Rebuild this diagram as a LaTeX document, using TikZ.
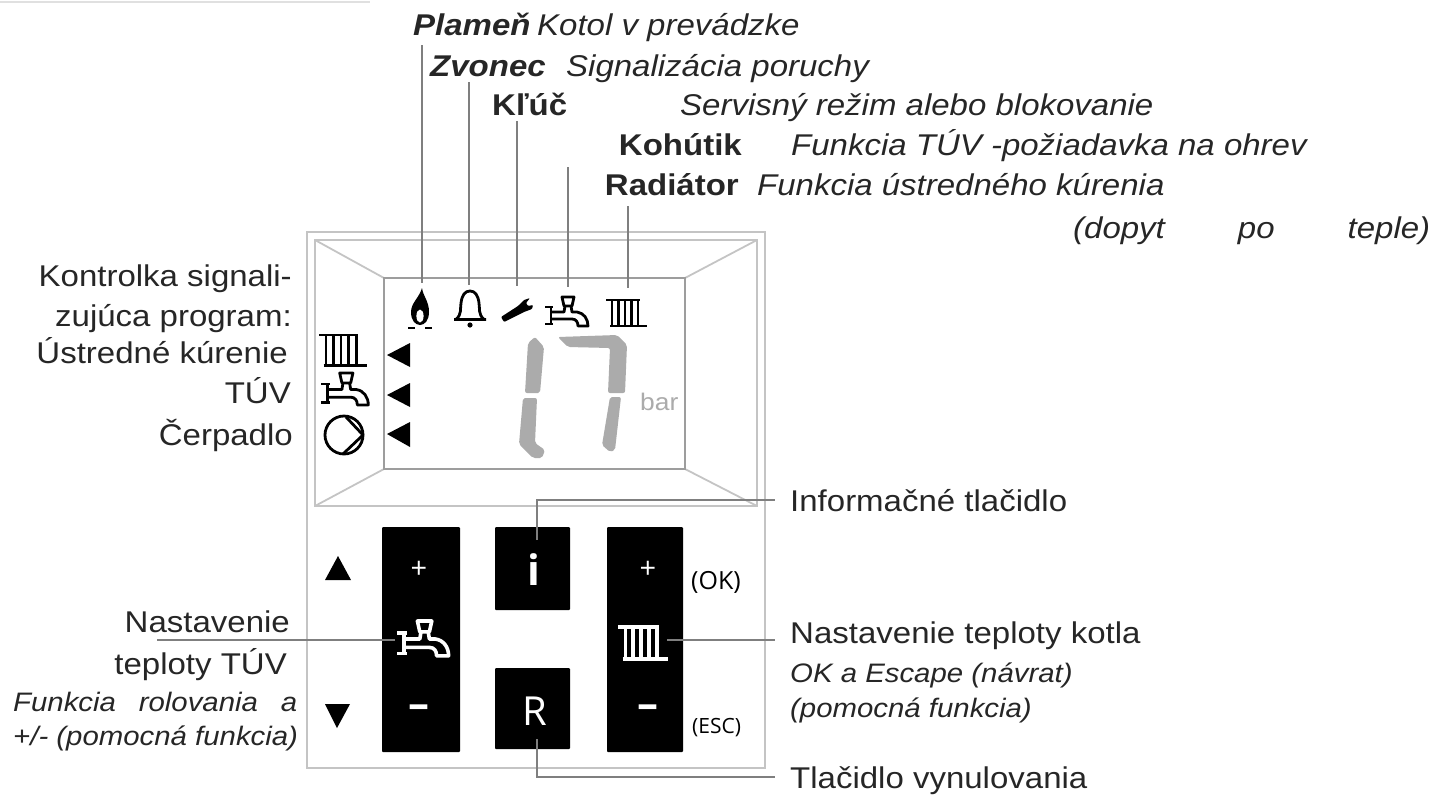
\documentclass[tikz,border=0pt]{standalone}
\usepackage{fontspec}
\setmainfont{Liberation Sans}[FakeStretch=1.1]
\newfontfamily\btnfont{Open Sans}
\definecolor{framegray}{HTML}{C4C4C4}
\definecolor{leadgray}{HTML}{7F7F7F}
\definecolor{seggray}{HTML}{ABABAB}
\tikzset{
    txt/.style={inner sep=0pt, text=black!85, font=\fontsize{30}{33}\selectfont},
    small/.style={txt, font=\fontsize{26.7}{29}\selectfont\itshape},
    head/.style={txt, font=\fontsize{30}{33}\selectfont\bfseries},
    headit/.style={txt, font=\fontsize{30}{33}\selectfont\bfseries\itshape},
    desc/.style={txt, font=\fontsize{30}{33}\selectfont\itshape},
    leader/.style={draw=leadgray, line width=2.2pt},
    frame/.style={draw=framegray, line width=1.8pt},
    btn/.style={fill=black, rounded corners=1pt},
    btntxt/.style={inner sep=0pt, text=white, font=\btnfont\fontsize{40}{44}\selectfont},
    side/.style={inner sep=0pt, text=black, font=\btnfont\fontsize{21}{24}\selectfont},
    seg/.style={fill=seggray, rounded corners=2pt},
    radicon/.pic={
        \draw (0,0) -- (34,0);
        \draw (4,26) -- (41,26);
        \foreach \x in {6,12.5,19,25.5,32} \draw (\x,0) -- (\x,26);
    },
    tapicon/.pic={
        \draw[line join=round] (17,0) -- (29,0) -- (27,9) -- (19,9) -- cycle;
        \draw[line join=round] (0,10) -- (8,10) (0,27) -- (8,27) (6,10) -- (6,27);
        \draw[line join=round] (6,15) -- (19,15) -- (20,9) (26,9) -- (27,15) -- (32,15)
            .. controls (39,16) and (43,22) .. (43,29) -- (33,29) .. controls (33,25) and (31,22) .. (27,22) -- (6,22);
    }
}
\begin{document}
\begin{tikzpicture}[x=1pt, y=-1pt]
    \useasboundingbox (0,0) rectangle (1434,796);
    \draw[black!12, line width=2pt] (0,1.5) -- (370,1.5);

    % Panel and display frame
    \node[frame, inner sep=0pt, minimum width=458pt, minimum height=536pt] (panel) at (536,500) {};
    \draw[frame] (315,240) rectangle (757,506);
    \draw[frame] (315,240) -- (384,278) (757,240) -- (685,278) (315,506) -- (384,469) (757,506) -- (685,469);
    \node[draw=framegray!80!black, fill=white, line width=2.8pt, inner sep=0pt, minimum width=301pt, minimum height=191pt] (display) at (534.5,373.5) {};

    % Display icons
    \fill (422,288) .. controls (423,296) and (429,301) .. (429,312) .. controls (429,320) and (425,325) .. (420,325)
        .. controls (415,325) and (411,320) .. (411,312) .. controls (411,303) and (419,298) .. (422,288) -- cycle;
    \fill[white] (420,316) ellipse (3.6pt and 6.5pt);
    \draw[line width=2.4pt] (408,328) -- (415,328) (425,328) -- (432,328);
    \draw[line width=2.8pt, line join=round] (454,319.5) -- (486,319.5) (456,319.5) .. controls (462,314) and (460,309) .. (461,303)
        .. controls (462,295) and (465,291) .. (470,291) .. controls (475,291) and (478,295) .. (479,303)
        .. controls (480,309) and (478,314) .. (484,319.5);
    \fill (470,325) circle (2.6pt);
    \fill[rounded corners=1pt] (501,317) -- (518,306) -- (524,300) -- (530,298) -- (526,303) -- (528,306) -- (533,305) -- (532,309) -- (524,312) -- (504,322) -- cycle;
    \begin{scope}[line width=2.8pt]
    \pic at (545,297) {tapicon};
    \pic at (606,300) {radicon};
    \pic[scale=1.16] at (319,335) {radicon};
    \pic[scale=1.1] at (321,373) {tapicon};
    \end{scope}
    \draw[line width=2.8pt] (344,435) circle (19pt);
    \draw[line width=2.8pt, line join=round] (346,417) -- (363,435) -- (343,454);
    \fill (387,355) -- (410,343) -- (410,367) -- cycle;
    \fill (387,395) -- (410,383) -- (410,407) -- cycle;
    \fill (387,434) -- (410,422) -- (410,447) -- cycle;

    % Pressure digits
    \fill[seg] (535,337) -- (544,347) -- (540,393) -- (525,393) -- (528,343) -- cycle;
    \fill[seg] (523,398) -- (537,398) -- (535,443) -- (545,450) -- (542,458) -- (533,458) -- (519,444) -- cycle;
    \fill[seg] (558,337) -- (617,335) -- (627,345) -- (625,393) -- (608,393) -- (610,348) -- (568,347) -- cycle;
    \fill[seg] (610,397) -- (621,397) -- (615,450) -- (610,452) -- (602,445) -- cycle;
    \node[inner sep=0pt, anchor=base west, text=seggray, font=\fontsize{24}{26}\selectfont] (barunit) at (640,410) {bar};

    % Buttons
    \fill[btn] (382,527) rectangle (460,752);
    \fill[btn] (495,527) rectangle (570,610);
    \fill[btn] (495,668) rectangle (570,749);
    \fill[btn] (607,527) rectangle (683,752);
    \node[btntxt, font=\btnfont\fontsize{29}{31}\selectfont] (plusl) at (419,570) {+};
    \node[btntxt, font=\btnfont\fontsize{29}{31}\selectfont] (plusr) at (648,570) {+};
    \node[btntxt, font=\btnfont\bfseries\fontsize{42}{44}\selectfont] (minusl) at (419,712) {–};
    \node[btntxt, font=\btnfont\bfseries\fontsize{42}{44}\selectfont] (minusr) at (648,712) {–};
    \node[btntxt, anchor=base, font=\btnfont\bfseries\fontsize{42}{44}\selectfont] (ilabel) at (534,585) {i};
    \node[btntxt, anchor=base] (rlabel) at (535,725) {R};
    \begin{scope}[white, line width=3.6pt]
    \pic[scale=1.2] at (397,621) {tapicon};
    \pic[scale=1.22] at (618,627) {radicon};
    \end{scope}
    \fill (338,556) -- (351,580) -- (325,580) -- cycle;
    \fill (337,728) -- (350,704) -- (325,704) -- cycle;
    \node[side, anchor=base west, font=\btnfont\fontsize{25}{27}\selectfont] (oklabel) at (691,589) {(OK)};
    \node[side, anchor=base west] (esclabel) at (692,733) {(ESC)};

    % Top labels
    \node[headit, anchor=base west] (flametxt) at (413,35) {Plameň};
    \node[desc, anchor=base west] (flamedesc) at (537,35) {Kotol v prevádzke};
    \node[headit, anchor=base west] (belltxt) at (430,76) {Zvonec};
    \node[desc, anchor=base west] (belldesc) at (566,76) {Signalizácia poruchy};
    \node[head, anchor=base west] (keytxt) at (492,115) {Kľúč};
    \node[desc, anchor=base west] (keydesc) at (680,115) {Servisný režim alebo blokovanie};
    \node[head, anchor=base east] (taptxt) at (742,155) {Kohútik};
    \node[desc, anchor=base west] (tapdesc) at (791,155) {Funkcia TÚV -požiadavka na ohrev};
    \node[head, anchor=base east] (radtxt) at (739,195) {Radiátor};
    \node[desc, anchor=base west] (raddesc) at (757,195) {Funkcia ústredného kúrenia};
    \node[desc, anchor=base west, text width=357pt] (radmore) at (1073,238) {(dopyt\hfill po\hfill teple)};

    % Left labels
    \node[txt, anchor=base east] (progone) at (292,286) {Kontrolka signali-};
    \node[txt, anchor=base east] (progtwo) at (292,326) {zujúca program:};
    \node[txt, anchor=base east] (progheat) at (288,363) {Ústredné kúrenie};
    \node[txt, anchor=base east] (progtap) at (291,403) {TÚV};
    \node[txt, anchor=base east] (progpump) at (293,445) {Čerpadlo};
    \node[txt, anchor=base east] (dhwone) at (290,632) {Nastavenie};
    \node[txt, anchor=base east] (dhwtwo) at (287,674) {teploty TÚV};
    \node[small, anchor=base west, text width=284pt] (scrollone) at (13,711) {Funkcia\hfill rolovania\hfill a};
    \node[small, anchor=base west] (scrolltwo) at (13,745) {+/- (pomocná funkcia)};

    % Right labels
    \node[txt, anchor=base west] (infotxt) at (790,511) {Informačné tlačidlo};
    \node[txt, anchor=base west] (boilertxt) at (790,643) {Nastavenie teploty kotla};
    \node[small, anchor=base west] (oktxt) at (790,682) {OK a Escape (návrat)};
    \node[small, anchor=base west] (auxtxt) at (790,717) {(pomocná funkcia)};
    \node[txt, anchor=base west] (resettxt) at (790,788) {Tlačidlo vynulovania};

    % Leader ends
    \coordinate (flametop) at (422,45);
    \coordinate (flameend) at (422,283);
    \coordinate (belltop) at (469,82);
    \coordinate (bellend) at (469,285);
    \coordinate (keytop) at (517,121);
    \coordinate (keyend) at (517,286);
    \coordinate (taptop) at (568,167);
    \coordinate (tapend) at (568,287);
    \coordinate (radtop) at (628,206);
    \coordinate (radend) at (628,288);
    \coordinate (infostart) at (537,540);
    \coordinate (infoend) at (775,500);
    \coordinate (resetstart) at (537,739);
    \coordinate (resetend) at (775,777);
    \coordinate (dhwstart) at (157,640);
    \coordinate (dhwend) at (395,640);
    \coordinate (boilerstart) at (667,640);
    \coordinate (boilerend) at (775,640);

    % Leaders
    \draw[leader] (flametop) -- (flameend);
    \draw[leader] (belltop) -- (bellend);
    \draw[leader] (keytop) -- (keyend);
    \draw[leader] (taptop) -- (tapend);
    \draw[leader] (radtop) -- (radend);
    \draw[leader] (infostart) |- (infoend);
    \draw[leader] (resetstart) |- (resetend);
    \draw[leader] (dhwstart) -- (dhwend);
    \draw[leader] (boilerstart) -- (boilerend);
\end{tikzpicture}
\end{document}
